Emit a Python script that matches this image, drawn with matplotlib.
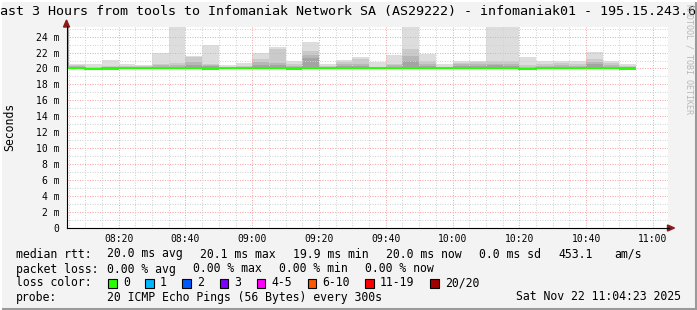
import numpy as np
import matplotlib
matplotlib.use('Agg')
import matplotlib.pyplot as plt
from matplotlib.lines import Line2D
from matplotlib.patches import Rectangle, Polygon

# 5 minute bins (start time), 20 pings each
bin_start = ['08:00', '08:05', '08:10', '08:15', '08:20', '08:25', '08:30', '08:35',
             '08:40', '08:45', '08:50', '08:55', '09:00', '09:05', '09:10', '09:15',
             '09:20', '09:25', '09:30', '09:35', '09:40', '09:45', '09:50', '09:55',
             '10:00', '10:05', '10:10', '10:15', '10:20', '10:25', '10:30', '10:35',
             '10:40', '10:45', '10:50']
# median rtt (ms)
median = [20.1, 20.0, 19.95, 20.0, 20.0, 20.0, 20.0, 20.05, 20.0, 20.05, 20.0, 20.0,
          20.0, 20.0, 20.0, 20.05, 20.0, 20.0, 20.0, 20.0, 20.05, 20.1, 20.05, 20.0,
          20.0, 20.0, 20.0, 20.05, 19.9, 20.0, 20.0, 20.0, 20.0, 20.0, 20.0]
ping_min = [19.9, 19.9, 19.75, 19.85, 19.9, 19.9, 19.9, 19.9, 19.9, 19.85, 19.9, 19.9,
            19.9, 19.9, 19.8, 19.9, 19.9, 19.9, 19.9, 19.9, 19.9, 19.9, 19.9, 19.9,
            19.9, 19.9, 19.9, 19.9, 19.75, 19.9, 19.9, 19.9, 19.9, 19.9, 19.85]
# smoke: upper edges of the outer layers (ms)
smoke_hi1 = [27.0, 20.6, 20.5, 21.1, 20.5, 20.4, 22.0, 26.0, 21.6, 22.9, 20.4, 20.7,
             22.0, 22.7, 20.9, 23.3, 20.5, 21.1, 21.5, 20.8, 21.7, 26.0, 21.8, 20.6,
             21.0, 21.0, 26.0, 26.0, 21.5, 20.9, 21.0, 20.9, 22.1, 21.0, 20.5]
smoke_hi2 = [26.5, 20.4, 20.2, 20.3, 20.3, 20.3, 20.6, 20.7, 21.4, 20.5, 20.2, 20.3,
             21.2, 22.5, 20.5, 22.2, 20.3, 20.8, 21.2, 20.2, 20.6, 22.4, 20.9, 20.15,
             20.7, 20.8, 21.0, 20.9, 20.4, 20.6, 20.7, 20.6, 21.2, 20.7, 20.3]
smoke_hi3 = [26.0, 20.25, 20.1, 20.2, 20.2, 20.2, 20.4, 20.4, 20.8, 20.4, 20.1, 20.2,
             20.8, 20.7, 20.3, 21.7, 20.2, 20.5, 20.6, 20.1, 20.4, 21.6, 20.5, 20.1,
             20.5, 20.5, 20.6, 20.6, 20.2, 20.3, 20.4, 20.3, 20.8, 20.4, 20.2]
smoke_hi4 = [25.5, 20.15, 20.05, 20.1, 20.1, 20.1, 20.2, 20.2, 20.4, 20.3, 20.05, 20.1,
             20.4, 20.4, 20.2, 21.3, 20.1, 20.3, 20.3, 20.05, 20.2, 21.0, 20.3, 20.05,
             20.3, 20.3, 20.4, 20.3, 20.1, 20.2, 20.2, 20.2, 20.5, 20.2, 20.1]

x_labels = ['08:20', '08:40', '09:00', '09:20', '09:40', '10:00', '10:20', '10:40', '11:00']
loss_names = ['0', '1', '2', '3', '4-5', '6-10', '11-19', '20/20']
loss_colors = ['#26ff00', '#00b8ff', '#0059ff', '#7e00ff', '#ff00ff', '#ff5500', '#ff0000', '#a10000']

W, H = 697, 310
BG = '#f3f3f3'
MONO = 'DejaVu Sans Mono'

def fx(px):
    return px / W

def fy(py):
    return 1 - py / H

def tmin(s):
    h, m = s.split(':')
    return int(h) * 60 + int(m)

fig = plt.figure(figsize=(W / 100, H / 100), dpi=100, facecolor=BG)
x0, x1, y0, y1 = 66.5, 667.5, 27, 228
ax = fig.add_axes([fx(x0), fy(y1), (x1 - x0) / W, (y1 - y0) / H])
ax.set_facecolor('white')

t0 = 8 * 60 + 4 + 23 / 60.0
ax.set_xlim(t0, t0 + 180)
ax.set_ylim(0, 25.2)

xs = np.array([tmin(s) for s in bin_start], dtype=float)
med = np.array(median)
lo = np.array(ping_min)

smoke_cols = ['#dddddd', '#cacaca', '#b7b7b7', '#a4a4a4']
for hi, c in zip([smoke_hi1, smoke_hi2, smoke_hi3, smoke_hi4], smoke_cols):
    hi = np.array(hi)
    ax.bar(xs, hi - lo, bottom=lo, width=5, align='edge', color=c, linewidth=0, zorder=1)

# grid
dots = (0, (1, 1.5))
for m in range(0, 26):
    major = (m % 2 == 0)
    ax.axhline(m, color='#f5a8a8' if major else '#d2d2d2', lw=0.72, ls=dots, zorder=2)
for t in np.arange(485, t0 + 180, 5):
    major = (int(t) % 20 == 0)
    ax.axvline(t, color='#f5a8a8' if major else '#d2d2d2', lw=0.72, ls=dots, zorder=2)

# median line
xe = np.append(xs, xs[-1] + 5)
ax.stairs(med, xe, color=loss_colors[0], lw=1.5, zorder=3, baseline=None)

for s in ax.spines.values():
    s.set_visible(False)
ax.tick_params(length=0)
ax.set_yticks(range(0, 25, 2))
ax.set_yticklabels(['0'] + ['%d m' % v for v in range(2, 25, 2)], fontsize=7, family=MONO)
ax.set_xticks([tmin(s) for s in x_labels])
ax.set_xticklabels(x_labels, fontsize=7, family=MONO)
ax.tick_params(axis='y', pad=5)
ax.tick_params(axis='x', pad=4)

# axes lines and arrows (figure pixels)
fig.add_artist(Line2D([fx(x0), fx(x0)], [fy(y1), fy(y0 - 1)], color='#000000', lw=0.8))
fig.add_artist(Line2D([fx(x0), fx(x1 + 1)], [fy(y1), fy(y1)], color='#000000', lw=0.8))
fig.add_artist(Polygon([[fx(x0 - 3), fy(y0)], [fx(x0 + 3), fy(y0)], [fx(x0), fy(y0 - 7)]],
                       closed=True, color='#8b1a1a', transform=fig.transFigure))
fig.add_artist(Polygon([[fx(x1), fy(y1 - 3)], [fx(x1), fy(y1 + 3)], [fx(x1 + 7), fy(y1)]],
                       closed=True, color='#8b1a1a', transform=fig.transFigure))

fig.text(fx(344), fy(12), 'Last 3 Hours from tools to Infomaniak Network SA (AS29222) - infomaniak01 - 195.15.243.6',
         ha='center', va='center', fontsize=9.6, family=MONO)
fig.text(fx(10), fy(127), 'Seconds', rotation=90, ha='center', va='center', fontsize=8.3, family=MONO)
fig.text(fx(689), fy(4), 'RRDTOOL / TOBI OETIKER', rotation=-90, ha='center', va='top',
         fontsize=6, family=MONO, color='#b8b8b8')

fs = 8.3
def lt(px, py, s, **kw):
    fig.text(fx(px), fy(py), s, ha=kw.pop('ha', 'left'), va='center', fontsize=fs, family=MONO, **kw)

lt(16, 254, 'median rtt:')
for px, s in zip([107, 200, 293, 386, 479, 558, 614],
                 ['20.0 ms avg', '20.1 ms max', '19.9 ms min', '20.0 ms now', '0.0 ms sd', '453.1', 'am/s']):
    lt(px, 254, s)
lt(16, 269, 'packet loss:')
for px, s in zip([107, 193, 279, 365], ['0.00 % avg', '0.00 % max', '0.00 % min', '0.00 % now']):
    lt(px, 269, s)
lt(16, 283, 'loss color:')
sw_x = [108, 145, 182, 219.5, 256.5, 307.5, 365, 430]
for px, name, c in zip(sw_x, loss_names, loss_colors):
    fig.add_artist(Rectangle((fx(px), fy(287.5)), 8.5 / W, 8.5 / H, facecolor=c,
                             edgecolor='black', lw=0.8, transform=fig.transFigure))
    lt(px + 15, 283, name)
lt(16, 297, 'probe:')
lt(107, 297, '20 ICMP Echo Pings (56 Bytes) every 300s')
lt(681, 297, 'Sat Nov 22 11:04:23 2025', ha='right')

# frame shading
fig.add_artist(Line2D([0, 1], [fy(309), fy(309)], color='#9a9a9a', lw=1.5))
fig.add_artist(Line2D([fx(696), fx(696)], [0, 1], color='#9a9a9a', lw=1.5))
fig.add_artist(Line2D([0, 1], [fy(0.5), fy(0.5)], color='#ffffff', lw=1.5))
fig.add_artist(Line2D([fx(0.5), fx(0.5)], [0, 1], color='#ffffff', lw=1.5))

fig.savefig('out.png', dpi=100, facecolor=BG)
